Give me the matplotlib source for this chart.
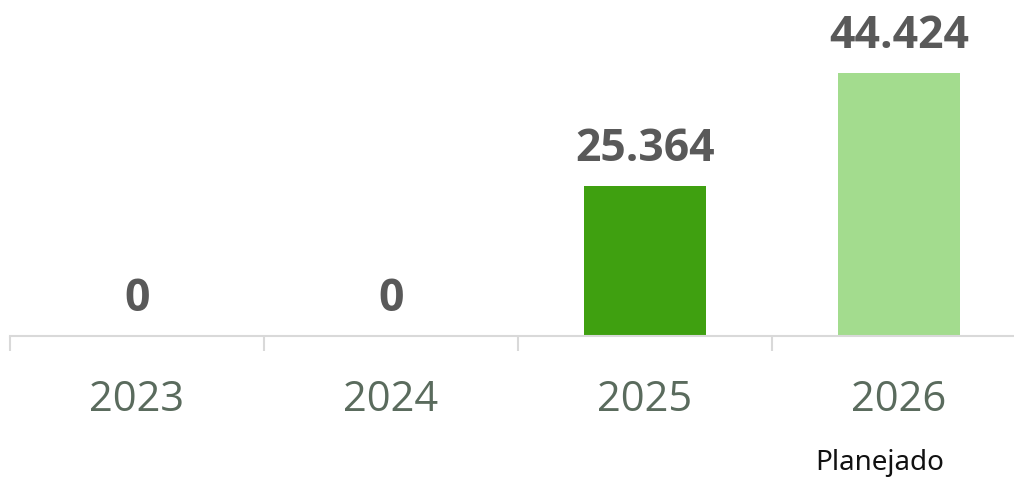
import matplotlib
matplotlib.use("Agg")
import matplotlib.pyplot as plt

categories = ["2023", "2024", "2025", "2026"]
values = [0, 0, 25364, 44424]
value_labels = ["0", "0", "25.364", "44.424"]
bar_colors = ["#3fa010", "#3fa010", "#3fa010", "#a3dc8e"]
note_text = "Planejado"

W, H = 1014, 480
fig = plt.figure(figsize=(W / 100, H / 100), dpi=100)
ax = fig.add_axes([10 / W, 144 / H, 1016 / W, 296 / H])

x = list(range(len(categories)))
ax.bar(x, values, width=0.48, color=bar_colors, zorder=2)
ax.set_xlim(-0.5, len(categories) - 0.5)
ax.set_ylim(0, 50000)

for xi, v, lab in zip(x, values, value_labels):
    ax.annotate(lab, (xi, v), xytext=(0, 10), textcoords="offset points",
                ha="center", va="bottom", fontsize=32, fontweight="bold",
                color="#595959", family="Open Sans")

for s in ["top", "right", "left"]:
    ax.spines[s].set_visible(False)
ax.spines["bottom"].set_color("#d9d9d9")
ax.spines["bottom"].set_linewidth(1.5)
ax.set_yticks([])
ax.set_xticks([i - 0.5 for i in range(len(categories) + 1)], minor=False)
ax.set_xticklabels([])
ax.tick_params(axis="x", which="major", length=11, width=1.5, color="#d9d9d9")
ax.set_xticks(x, minor=True)
ax.set_xticklabels(categories, minor=True)
ax.tick_params(axis="x", which="minor", length=0, pad=31, labelsize=30,
               labelcolor="#5a6b5d")
for t in ax.get_xticklabels(minor=True):
    t.set_family("Open Sans")

fig.text(880 / W, 1 - 463 / H, note_text, ha="center", va="center",
         fontsize=20, color="#111111", family="Noto Sans")

fig.savefig("out.png", dpi=100, facecolor="white")
